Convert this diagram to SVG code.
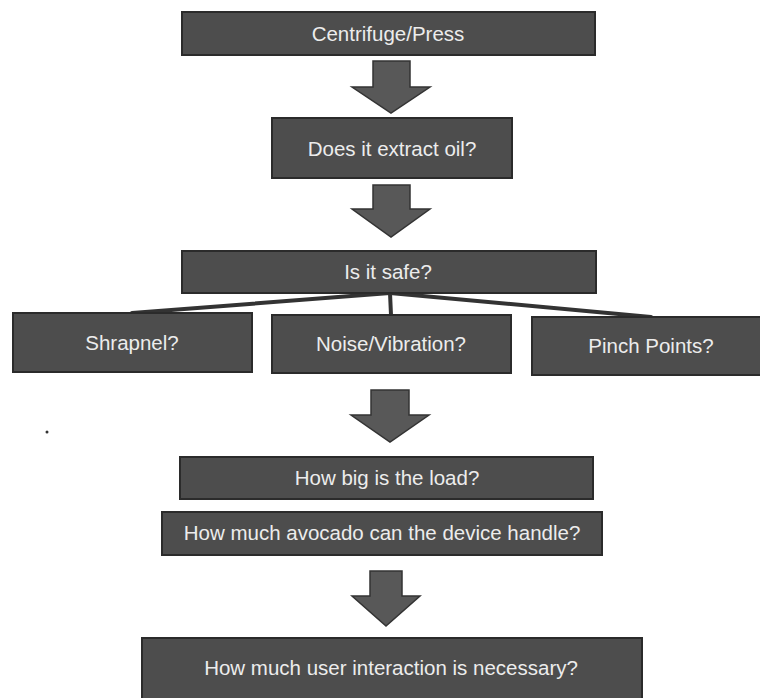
<svg xmlns="http://www.w3.org/2000/svg" width="760" height="698" viewBox="0 0 760 698">
<style>
.box{fill:#4d4d4d;stroke:#2b2b2b;stroke-width:2}
.lbl{font-family:"Liberation Sans",Arial,sans-serif;font-size:20.5px;fill:#ececec;text-anchor:middle}
.arr{fill:#585858;stroke:#333;stroke-width:1.5;stroke-linejoin:miter}
.con{stroke:#333;stroke-width:4;fill:none;stroke-linecap:round}
</style>
<rect width="760" height="698" fill="#fff"/>
<g id="connectors">
<path class="arr" d="M373,61 H410 V87 H430 L391,113 L352,87 H373 Z"/>
<path class="arr" d="M373,185 H410 V209 H430 L391,237 L352,209 H373 Z"/>
<path class="arr" d="M371,390 H409 V415 H429 L390,442 L351,415 H371 Z"/>
<path class="arr" d="M370,571 H402 V596 H420 L386,626 L352,596 H370 Z"/>
<line class="con" x1="390" y1="293" x2="132" y2="313"/>
<line class="con" x1="390" y1="293" x2="391" y2="315"/>
<line class="con" x1="390" y1="293" x2="651" y2="317"/>
</g>
<g id="n1"><rect class="box" x="182" y="12" width="413" height="43"/><text class="lbl" x="388" y="41">Centrifuge/Press</text></g>
<g id="n2"><rect class="box" x="272" y="118" width="240" height="60"/><text class="lbl" x="392" y="156">Does it extract oil?</text></g>
<g id="n3"><rect class="box" x="182" y="251" width="414" height="42"/><text class="lbl" x="388" y="279">Is it safe?</text></g>
<g id="n4"><rect class="box" x="13" y="313" width="239" height="59"/><text class="lbl" x="132" y="350">Shrapnel?</text></g>
<g id="n5"><rect class="box" x="272" y="315" width="239" height="58"/><text class="lbl" x="391" y="351">Noise/Vibration?</text></g>
<g id="n6"><rect class="box" x="532" y="317" width="240" height="58"/><text class="lbl" x="651" y="353">Pinch Points?</text></g>
<g id="n7"><rect class="box" x="180" y="457" width="413" height="42"/><text class="lbl" x="387" y="485">How big is the load?</text></g>
<g id="n8"><rect class="box" x="162" y="512" width="440" height="43"/><text class="lbl" x="382" y="540">How much avocado can the device handle?</text></g>
<g id="n9"><rect class="box" x="142" y="638" width="500" height="62"/><text class="lbl" x="391" y="675">How much user interaction is necessary?</text></g>
<circle cx="47" cy="432" r="1.5" fill="#333"/>
</svg>
